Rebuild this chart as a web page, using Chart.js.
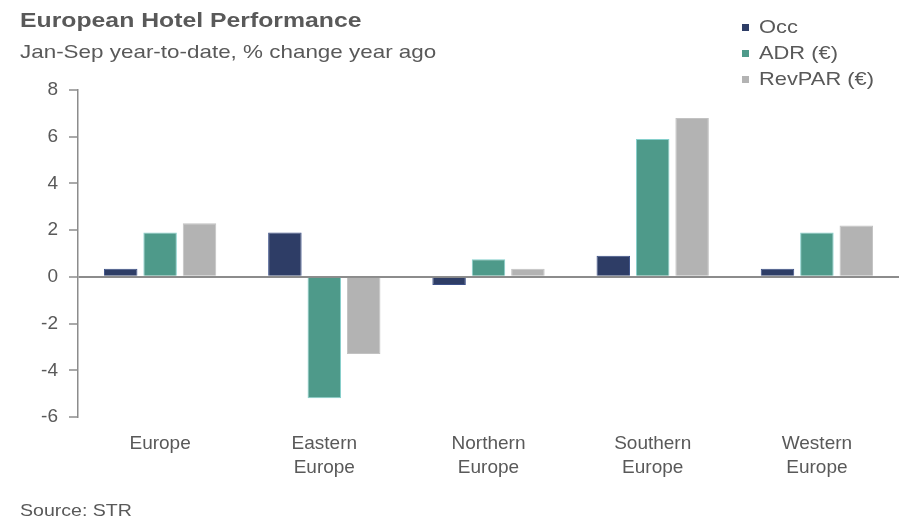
<!DOCTYPE html>
<html>
<head>
<meta charset="utf-8">
<script src="https://cdn.jsdelivr.net/npm/chart.js@4.4.1/dist/chart.umd.min.js"></script>
<style>
  html, body { margin: 0; padding: 0; background: #fff; }
  #wrap { position: relative; width: 899px; height: 529px; overflow: hidden; font-family: "Liberation Sans", Arial, sans-serif; color: #595959; }
  #c { position: absolute; left: 0; top: 0; }
  .txt { position: absolute; white-space: nowrap; transform-origin: left center; transform: scaleX(1.18); }
  #title { left: 20px; top: 8px; font-size: 21px; font-weight: bold; }
  #subtitle { left: 20px; top: 41px; font-size: 19px; }
  #source { left: 20px; top: 501px; font-size: 17px; transform: scaleX(1.15); }
  #legend { position: absolute; left: 742px; top: 14px; }
  .li { position: relative; height: 26px; font-size: 19px; white-space: nowrap; }
  .sw { position: absolute; left: 0; top: 10px; width: 7px; height: 7px; }
  .lt { position: absolute; left: 17px; top: 2px; transform-origin: left center; transform: scaleX(1.15); }
</style>
</head>
<body>
<div id="wrap">
  <canvas id="c" width="899" height="529"></canvas>
  <div class="txt" id="title">European Hotel Performance</div>
  <div class="txt" id="subtitle">Jan-Sep year-to-date, % change year ago</div>
  <div id="legend"></div>
  <div class="txt" id="source">Source: STR</div>
</div>
<script>
const categories = [["Europe"], ["Eastern", "Europe"], ["Northern", "Europe"], ["Southern", "Europe"], ["Western", "Europe"]];
const seriesNames = ["Occ", "ADR (€)", "RevPAR (€)"];
const occ = [0.35, 1.9, -0.35, 0.9, 0.35];
const adr = [1.9, -5.2, 0.75, 5.9, 1.9];
const revpar = [2.3, -3.3, 0.35, 6.8, 2.2];
const yTicks = [-6, -4, -2, 0, 2, 4, 6, 8];

const fills = ["#2E3D66", "#4E9A8A", "#B3B3B3"];
const borders = ["#3C5088", "#86D0CC", "#C2C2C2"];
const values = [occ, adr, revpar];

const legend = document.getElementById("legend");
seriesNames.forEach((n, i) => {
  const d = document.createElement("div");
  d.className = "li";
  d.innerHTML = '<span class="sw" style="background:' + fills[i] + '"></span><span class="lt">' + n + '</span>';
  legend.appendChild(d);
});

const axisGrey = "#8C8C8C";
const fam = "'Liberation Sans', Arial, sans-serif";

new Chart(document.getElementById("c"), {
  type: "bar",
  data: {
    labels: categories,
    datasets: seriesNames.map((n, i) => ({
      label: n,
      data: values[i],
      backgroundColor: fills[i],
      borderColor: borders[i],
      borderWidth: 1,
      categoryPercentage: 0.72,
      barPercentage: 0.85
    }))
  },
  options: {
    responsive: false,
    animation: false,
    devicePixelRatio: 1,
    layout: { padding: { left: 0, right: 0, top: 90, bottom: 0 } },
    plugins: { legend: { display: false }, tooltip: { enabled: false } },
    scales: {
      x: {
        grid: { display: false, drawTicks: false },
        border: { display: false },
        ticks: { color: "#595959", font: { family: fam, size: 19, lineHeight: 1.27 }, padding: 15, maxRotation: 0, autoSkip: false },
        afterFit: (s) => { s.height = 112; }
      },
      y: {
        min: -6,
        max: 8,
        afterBuildTicks: (s) => { s.ticks = yTicks.map(v => ({ value: v })); },
        grid: {
          drawOnChartArea: true,
          color: (ctx) => (ctx.tick && ctx.tick.value === 0 ? axisGrey : "rgba(0,0,0,0)"),
          lineWidth: 2,
          tickColor: axisGrey,
          tickWidth: 1.5,
          tickLength: 9
        },
        border: { display: true, color: axisGrey, width: 1.5 },
        ticks: { color: "#595959", font: { family: fam, size: 19 }, padding: 11 },
        afterFit: (s) => { s.width = 78; }
      }
    }
  }
});
</script>
</body>
</html>
